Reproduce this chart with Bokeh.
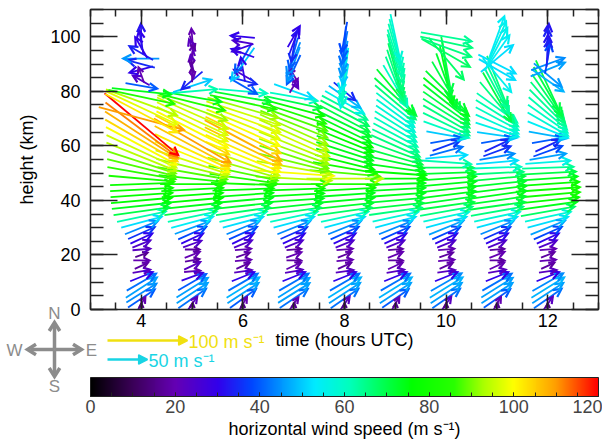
import math
from bokeh.plotting import figure
from bokeh.layouts import column
from bokeh.core.properties import value
from bokeh.models import (Range1d, LinearAxis, SingleIntervalTicker, FixedTicker, GridBox,
                          ColorBar, LinearColorMapper, Title, CustomJSTickFormatter)
from bokeh.embed import file_html
from bokeh.resources import INLINE

# ---------------- data ----------------
times_utc = [4, 5, 6, 7, 8, 9, 10, 11, 12]
heights_km = [0, 2, 4, 6, 8, 10, 12, 14, 16, 18, 20, 22, 24, 26, 28, 30, 32, 34, 36, 38,
              40, 42, 44, 46, 48, 50, 52, 54, 56, 58, 60, 62, 64, 66, 68, 70, 72, 74, 76, 78,
              80, 82, 84, 86, 88, 90, 92, 94, 96, 98, 100]

# horizontal wind speed (m/s) and direction (deg, counter-clockwise from east)
spd_04 = [15, 20, 40, 44, 46, 42, 30, 22, 18, 20, 16, 22, 24, 30, 36, 44,
          52, 62, 70, 74, 76, 77, 78, 78, 82, 86, 88, 90, 94, 96, 100, 104, 108, 112, 120, 110, 102, 98, 94, 84, 74,
          40, 24, 20, 30, 35, 45, 34, 30, 30, 32]
dir_04 = [90, 60, 34, 32, 33, 30, 22, 10, 25, 0, 20, 5, 22, 25, 24, 22,
          15, 12, 8, 6, 5, 4, 3, 2, -5, -10, -14, -18, -22, -25, -28, -30, -33, -37, -40, -15, -28, -25, -20, -12, -6,
          -10, 150, 110, 195, 165, 180, 150, 120, 100, 92]
spd_05 = [16, 22, 42, 46, 46, 40, 28, 20, 22, 18, 20, 18, 24, 30, 38, 46,
          54, 62, 70, 74, 76, 76, 77, 80, 84, 88, 92, 96, 100, 102, 106, 110, 104, 100, 98, 97, 96, 92, 84, 74, 62,
          50, 34, 18, 20, 22, 18, 20, 22, 18, 20]
dir_05 = [85, 55, 35, 33, 32, 30, 20, 5, 25, 10, 22, 0, 20, 25, 24, 20,
          15, 12, 8, 6, 5, 4, 3, 0, -6, -10, -14, -18, -22, -25, -28, -30, -28, -27, -26, -25, -24, -20, -14, -10, 5,
          18, -140, 90, -80, 100, -100, 80, 110, -70, 95]
spd_06 = [15, 20, 40, 46, 48, 42, 30, 22, 18, 20, 18, 20, 24, 30, 38, 44,
          52, 60, 68, 72, 74, 75, 76, 80, 84, 88, 92, 96, 100, 102, 106, 108, 104, 100, 98, 98, 96, 92, 84, 72, 60,
          40, 35, 25, 30, 50, 40, 30, 28, 25, 30]
dir_06 = [90, 60, 36, 33, 32, 30, 22, 8, 25, 5, 20, 5, 22, 26, 24, 22,
          15, 12, 8, 6, 5, 4, 2, -2, -8, -12, -16, -20, -22, -24, -26, -28, -26, -24, -22, -20, -18, -16, -12, -10, -5,
          -30, -15, 150, 100, -125, -120, 160, -160, 170, 175]
spd_07 = [16, 20, 42, 46, 46, 42, 30, 22, 20, 18, 20, 18, 24, 30, 36, 44,
          52, 60, 68, 72, 74, 75, 76, 86, 94, 100, 94, 90, 90, 92, 94, 96, 94, 92, 90, 88, 84, 78, 70, 60, 52,
          20, 22, 20, 40, 45, 44, 40, 35, 32, 30]
dir_07 = [85, 55, 34, 32, 32, 30, 22, 10, 25, 0, 20, 5, 22, 25, 24, 22,
          15, 12, 8, 6, 4, 3, 2, 0, -3, -4, -10, -14, -18, -20, -22, -24, -24, -24, -22, -20, -18, -15, -12, -10, -20,
          60, -60, 120, -115, -110, -112, -105, -100, 70, 60]
spd_08 = [15, 22, 42, 46, 48, 42, 30, 22, 18, 20, 18, 20, 24, 30, 38, 44,
          52, 60, 68, 72, 74, 74, 76, 84, 95, 88, 80, 76, 74, 74, 74, 76, 76, 74, 72, 70, 68, 64, 56, 48, 35,
          55, 60, 60, 55, 50, 45, 45, 42, 40, 38]
dir_08 = [90, 55, 35, 33, 32, 30, 22, 8, 25, 5, 22, 5, 22, 25, 24, 22,
          15, 12, 8, 6, 5, 4, 3, 0, 0, -5, -10, -14, -16, -18, -20, -22, -24, -26, -26, -28, -28, -28, -30, -35, -40,
          -100, -95, -98, -100, -95, -100, -95, -100, -95, -100]
spd_09 = [16, 20, 40, 46, 48, 42, 30, 22, 20, 18, 20, 18, 24, 30, 38, 44,
          52, 58, 66, 70, 72, 74, 74, 74, 76, 76, 74, 72, 70, 68, 66, 64, 62, 60, 60, 58, 58, 60, 66, 70, 72,
          60, 64, 66, 68, 66, 64, 62, 62, 60, 58]
dir_09 = [85, 60, 35, 33, 32, 30, 22, 10, 25, 0, 22, 5, 22, 25, 24, 22,
          15, 12, 8, 6, 5, 4, 3, 2, 0, -4, -8, -12, -16, -20, -24, -26, -28, -30, -32, -34, -36, -38, -40, -42, -50,
          -60, -68, -72, -75, -75, -72, -72, -74, -76, -78]
spd_10 = [15, 22, 42, 46, 48, 44, 30, 22, 18, 20, 18, 20, 24, 30, 38, 46,
          52, 58, 66, 70, 72, 74, 74, 74, 74, 72, 68, 62, 52, 42, 36, 40, 50, 60, 64, 66, 68, 70, 72, 74, 72,
          70, 72, 74, 72, 70, 68, 68, 66, 66, 64]
dir_10 = [90, 55, 35, 33, 32, 30, 22, 8, 25, 5, 20, 5, 22, 25, 24, 22,
          15, 12, 10, 8, 8, 7, 6, 5, 4, 2, 0, -4, 5, 15, 20, 10, -10, -20, -26, -30, -32, -35, -38, -40, -45,
          -60, -70, -78, -82, -80, -50, -30, -20, -12, -10]
spd_11 = [16, 20, 40, 46, 46, 42, 30, 22, 20, 18, 20, 18, 24, 30, 36, 44,
          52, 58, 66, 70, 72, 74, 74, 72, 70, 66, 60, 52, 44, 36, 34, 40, 50, 56, 58, 60, 62, 62, 66, 70, 64,
          64, 66, 55, 52, 52, 52, 54, 55, 56, 54]
dir_11 = [85, 60, 35, 33, 32, 30, 22, 10, 25, 0, 22, 5, 22, 25, 24, 22,
          15, 12, 10, 8, 8, 8, 7, 6, 5, 3, 2, 5, 10, 20, 25, 10, -8, -18, -24, -28, -32, -36, -50, -60, -62,
          -65, -68, -50, -30, -27, 40, 55, 62, 66, 70]
spd_12 = [15, 22, 42, 46, 48, 44, 30, 22, 18, 20, 18, 20, 24, 30, 38, 46,
          52, 58, 68, 74, 78, 80, 80, 78, 74, 70, 64, 56, 46, 38, 34, 40, 48, 54, 58, 60, 62, 64, 66, 68, 70,
          70, 48, 45, 46, 44, 38, 34, 32, 34, 32]
dir_12 = [90, 55, 35, 33, 32, 30, 22, 8, 25, 5, 22, 5, 22, 25, 24, 22,
          15, 12, 10, 8, 6, 5, 4, 4, 4, 3, 2, 4, 10, 20, 25, 10, -10, -22, -30, -35, -40, -45, -50, -55, -60,
          -65, -35, -40, 22, 20, 80, 85, 88, 90, 85]

speed_ticks = [0, 20, 40, 60, 80, 100, 120]
legend_speeds = [100, 50]
compass_labels = ["N", "S", "W", "E"]

all_spd = [spd_04, spd_05, spd_06, spd_07, spd_08, spd_09, spd_10, spd_11, spd_12]
all_dir = [dir_04, dir_05, dir_06, dir_07, dir_08, dir_09, dir_10, dir_11, dir_12]

# ---------------- styling / geometry ----------------
FONT = "Liberation Sans"
X0, X1 = 3, 13
Y0, Y1 = 0, 110
FW, FH = 508, 300
LEFT, TOP = 90, 9
PXH = FW / (X1 - X0)      # px per hour
PXK = FH / (Y1 - Y0)      # px per km
VSCALE = 0.8              # px per (m/s)
SMAX = 120.0

stops = [(0, (0, 0, 0)), (10, (60, 0, 90)), (20, (100, 0, 180)), (30, (50, 0, 235)),
         (38, (0, 70, 255)), (46, (0, 160, 255)), (53, (0, 235, 255)), (61, (0, 255, 190)),
         (70, (0, 255, 70)), (76, (0, 255, 0)), (86, (40, 255, 0)), (93, (170, 255, 0)),
         (100, (255, 255, 0)), (110, (255, 160, 0)), (120, (255, 0, 0))]


def interp_color(v):
    for (a, ca), (b, cb) in zip(stops[:-1], stops[1:]):
        if v <= b:
            f = (v - a) / (b - a)
            return tuple(int(round(ca[i] + f * (cb[i] - ca[i]))) for i in range(3))
    return stops[-1][1]


palette = ["#%02x%02x%02x" % interp_color(i * SMAX / 255) for i in range(256)]


def color_for(s):
    return palette[int(round(max(0, min(SMAX, s)) / SMAX * 255))]


# ---------------- main figure ----------------
p = figure(frame_width=FW, frame_height=FH, x_range=Range1d(X0, X1), y_range=Range1d(Y0, Y1),
           output_backend="svg", toolbar_location=None,
           min_border_left=LEFT, min_border_top=TOP, min_border_right=4, min_border_bottom=0,
           x_axis_label="time (hours UTC)", y_axis_label="height (km)")
p.grid.visible = False
p.outline_line_color = "#222222"
p.background_fill_color = "white"
p.border_fill_color = "white"

AX = "#222222"
blank = CustomJSTickFormatter(code="return ''")


def style_axis(ax, major_in, minor_in, labels=True):
    ax.axis_line_color = AX
    ax.axis_line_width = 1.5
    ax.major_tick_in = major_in
    ax.major_tick_out = 0
    ax.minor_tick_in = minor_in
    ax.minor_tick_out = 0
    ax.major_tick_line_color = AX
    ax.minor_tick_line_color = AX
    ax.major_tick_line_width = 1.5
    ax.minor_tick_line_width = 1.5
    if labels:
        ax.major_label_text_font = FONT
        ax.major_label_text_font_size = "18px"
        ax.major_label_text_color = "black"
        ax.axis_label_text_font = FONT
        ax.axis_label_text_font_size = "18px"
        ax.axis_label_text_font_style = "normal"
        ax.axis_label_text_color = "black"
    else:
        ax.formatter = blank
        ax.major_label_standoff = 0


p.xaxis.ticker = SingleIntervalTicker(interval=2, num_minor_ticks=4)
p.yaxis.ticker = SingleIntervalTicker(interval=20, num_minor_ticks=4)
style_axis(p.xaxis[0], 15, 7)
style_axis(p.yaxis[0], 27, 13)
p.xaxis.major_label_standoff = 4
p.xaxis.axis_label_standoff = 0
p.yaxis.major_label_standoff = 10
p.yaxis.axis_label_standoff = 10

top_ax = LinearAxis(ticker=SingleIntervalTicker(interval=2, num_minor_ticks=4))
style_axis(top_ax, 15, 7, labels=False)
p.add_layout(top_ax, "above")
right_ax = LinearAxis(ticker=SingleIntervalTicker(interval=20, num_minor_ticks=4))
style_axis(right_ax, 27, 13, labels=False)
p.add_layout(right_ax, "right")

# ---------------- wind arrows ----------------
HEAD_MAX, HEAD_FRAC, HEAD_ANG = 9.0, 0.42, 27.0
sx0, sy0, sx1, sy1, scol = [], [], [], [], []
hxs, hys, hcol = [], [], []
for t, spd, drs in reversed(list(zip(times_utc, all_spd, all_dir))):
    for h, s, d in zip(heights_km, spd, drs):
        a = math.radians(d)
        L = s * VSCALE
        hx_p, hy_p = math.cos(a) * L / 2, math.sin(a) * L / 2
        tx, ty = t - hx_p / PXH, h - hy_p / PXK
        hx, hy = t + hx_p / PXH, h + hy_p / PXK
        c = color_for(s)
        sx0.append(tx); sy0.append(ty); sx1.append(hx); sy1.append(hy); scol.append(c)
        hl = min(HEAD_MAX, HEAD_FRAC * L)
        bxs, bys = [], []
        for sgn in (1, -1):
            b = a + math.pi + sgn * math.radians(HEAD_ANG)
            bxs.append(hx + hl * math.cos(b) / PXH)
            bys.append(hy + hl * math.sin(b) / PXK)
        hxs.append([bxs[0], hx, bxs[1]]); hys.append([bys[0], hy, bys[1]]); hcol.append(c)

p.segment(x0=sx0, y0=sy0, x1=sx1, y1=sy1, line_color=scol, line_width=1.8)
p.multi_line(xs=hxs, ys=hys, line_color=hcol, line_width=2.2, line_join="miter")

# spacer between the time axis and the colour bar
p.add_layout(Title(text="\u00a0", text_font=FONT, text_font_size="21px", standoff=0), "below")

# ---------------- colour bar ----------------
mapper = LinearColorMapper(palette=palette, low=0, high=SMAX)
cb = ColorBar(color_mapper=mapper, orientation="horizontal", width=FW, height=19, padding=0, margin=0,
              ticker=FixedTicker(ticks=speed_ticks, minor_ticks=list(range(0, 121, 5))),
              major_label_text_font=FONT, major_label_text_font_size="18px",
              major_tick_in=4, major_tick_out=0, major_tick_line_color="#222222",
              minor_tick_in=4, minor_tick_out=0, minor_tick_line_color="#222222",
              bar_line_color="#222222", border_line_color=None, background_fill_color=None,
              label_standoff=3, location=(0, 0))
p.add_layout(cb, "below")
p.add_layout(Title(text="horizontal wind speed (m s\u207b\u00b9)", align="center", text_font=FONT,
                   text_font_size="18px", text_font_style="normal", text_color="black", standoff=3), "below")

# ---------------- compass and scale arrows (transparent overlay, pixel coordinates) ----------------
WB, HB = 280, 400
q = figure(frame_width=WB, frame_height=HB, x_range=Range1d(0, WB), y_range=Range1d(HB, 0),
           output_backend="svg", toolbar_location=None, min_border=0, title=None,
           x_axis_location=None, y_axis_location=None)
q.grid.visible = False
q.outline_line_color = None
q.background_fill_color = None
q.border_fill_color = None


def px_arrow(x0, y0, x1, y1, hl, ang=30.0):
    a = math.atan2(y1 - y0, x1 - x0)
    bx, by = [], []
    for sgn in (1, -1):
        b = a + math.pi + sgn * math.radians(ang)
        bx.append(x1 + hl * math.cos(b)); by.append(y1 + hl * math.sin(b))
    return [bx[0], x1, bx[1]], [by[0], y1, by[1]]


# scale arrows: length = speed * VSCALE pixels
LEG_X = 107
leg_cols = ["#f0e010", "#18d4e4"]
for sp, yy, col in zip(legend_speeds, [340, 359], leg_cols):
    xe = LEG_X + sp * VSCALE
    q.segment(x0=[LEG_X], y0=[yy], x1=[xe - 2], y1=[yy], line_color=col, line_width=2.5)
    hx, hy = px_arrow(LEG_X, yy, xe, yy, 10, 28)
    q.patch(x=hx, y=hy, fill_color=col, line_color=col, line_width=1.5)
    q.text(x=[xe + 1], y=[yy + 1], text=[f"{sp} m s\u207b\u00b9"], text_color=col, text_font=value(FONT),
           text_font_size=value("18px"), text_align="left", text_baseline="middle")

# compass
CX, CY, ARM = 54, 349, 27
GRAY = "#8c8c8c"
dirs = [(0, -1), (0, 1), (-1, 0), (1, 0)]
lab_off = [(0, -36), (0, 37), (-40, 1), (37, 1)]
for (dx, dy), lab, (ox, oy) in zip(dirs, compass_labels, lab_off):
    ex, ey = CX + dx * ARM, CY + dy * ARM
    q.segment(x0=[CX], y0=[CY], x1=[ex - dx * 3], y1=[ey - dy * 3], line_color=GRAY, line_width=3.5)
    hx, hy = px_arrow(CX, CY, ex, ey, 10, 32)
    q.line(x=hx, y=hy, line_color=GRAY, line_width=3.5, line_join="miter")
    q.text(x=[CX + ox], y=[CY + oy], text=[lab], text_color=GRAY, text_font=value(FONT),
           text_font_size=value("17px"), text_align="center", text_baseline="middle")

# both share one grid cell: the overlay sits on top of the chart
layout = GridBox(children=[(column(p), 0, 0), (column(q), 0, 0)])

open("out.html", "w").write(file_html(layout, INLINE))
